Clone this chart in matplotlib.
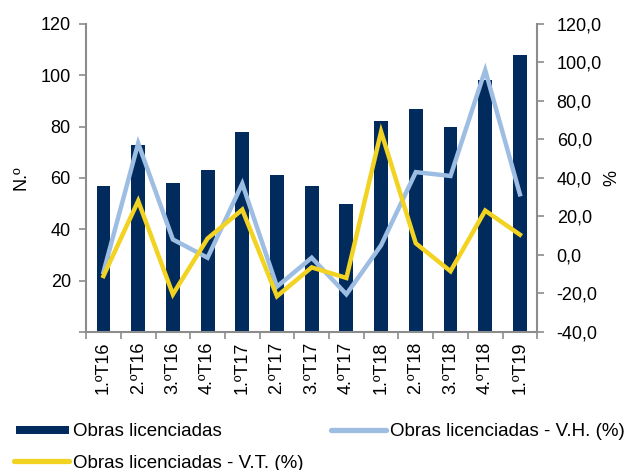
import matplotlib
matplotlib.use("Agg")
import matplotlib.pyplot as plt
from matplotlib.patches import Patch
from matplotlib.lines import Line2D
import numpy as np

plt.rcParams['font.family'] = ['Liberation Sans', 'DejaVu Sans']

trimestres = ['1.ºT16', '2.ºT16', '3.ºT16', '4.ºT16', '1.ºT17', '2.ºT17', '3.ºT17',
              '4.ºT17', '1.ºT18', '2.ºT18', '3.ºT18', '4.ºT18', '1.ºT19']
obras = [57, 73, 58, 63, 78, 61, 57, 50, 82, 87, 80, 98, 108]
var_vh = [-9, 58, 8, -1.5, 37, -16.5, -1.5, -20.5, 5, 43, 41, 96, 31.5]
var_vt = [-11, 28, -20.5, 8.5, 23.5, -21.5, -6.5, -12, 64, 6, -8.5, 23, 10.5]

navy = '#002B5C'
azul = '#9DBDE3'
amarillo = '#F2D322'
gris = '#8C8C8C'

fig = plt.figure(figsize=(6.24, 4.70), dpi=100)
ax1 = fig.add_axes([0.138, 0.294, 0.723, 0.655])
ax2 = ax1.twinx()

x = np.arange(len(trimestres))
ax1.bar(x, obras, width=0.4, color=navy, zorder=2)
ax2.plot(x, var_vh, color=azul, lw=3.2, solid_joinstyle='miter', zorder=3)
ax2.plot(x, var_vt, color=amarillo, lw=3.2, solid_joinstyle='miter', zorder=4)

ax1.set_zorder(1)
ax2.set_zorder(2)
ax2.patch.set_visible(False)

ax1.set_xlim(-0.5, len(trimestres) - 0.5)
ax1.set_ylim(0, 120)
ax1.set_yticks([0, 20, 40, 60, 80, 100, 120])
ax1.set_yticklabels(['', '20', '40', '60', '80', '100', '120'])
ax2.set_ylim(-40, 120)
ax2.set_yticks(np.arange(-40, 121, 20))
ax2.set_yticklabels([f'{v:.1f}'.replace('.', ',') for v in np.arange(-40, 121, 20)])

ax1.set_xticks(np.arange(-0.5, len(trimestres), 1), minor=False)
ax1.set_xticklabels([])
ax1.set_xticks(x, minor=True)
ax1.set_xticklabels(trimestres, minor=True, rotation=90)
ax1.tick_params(axis='x', which='minor', length=0, pad=7, labelsize=13)
ax1.tick_params(axis='x', which='major', length=5, color=gris, width=1.2)

for ax in (ax1, ax2):
    for s in ax.spines.values():
        s.set_visible(False)
ax1.spines['left'].set_visible(True)
ax1.spines['bottom'].set_visible(True)
ax2.spines['right'].set_visible(True)
for s in (ax1.spines['left'], ax1.spines['bottom'], ax2.spines['right']):
    s.set_color(gris)
    s.set_linewidth(1.5)

ax1.tick_params(axis='y', length=5, color=gris, width=1.2, labelsize=13, pad=6)
ax2.tick_params(axis='y', length=5, color=gris, width=1.2, labelsize=13, pad=9)

ax1.set_ylabel('N.º', fontsize=13, labelpad=8)
ax2.set_ylabel('%', fontsize=13, labelpad=1)

h1 = Patch(facecolor=navy)
h2 = Line2D([0], [0], color=azul, lw=3.8, solid_capstyle='round')
h3 = Line2D([0], [0], color=amarillo, lw=3.8, solid_capstyle='round')
kw = dict(frameon=False, fontsize=13.5, handletextpad=0.25,
          borderpad=0, borderaxespad=0)
fig.legend([h1], ['Obras licenciadas'], loc='center left', bbox_to_anchor=(0.026, 0.081),
           handleheight=0.3, handlelength=2.8, **kw)
fig.legend([h2], ['Obras licenciadas - V.H. (%)'], loc='center left', bbox_to_anchor=(0.531, 0.081),
           handlelength=2.9, **kw)
fig.legend([h3], ['Obras licenciadas - V.T. (%)'], loc='center left', bbox_to_anchor=(0.023, 0.015),
           handlelength=2.9, **kw)

fig.savefig('out.png', dpi=100)
